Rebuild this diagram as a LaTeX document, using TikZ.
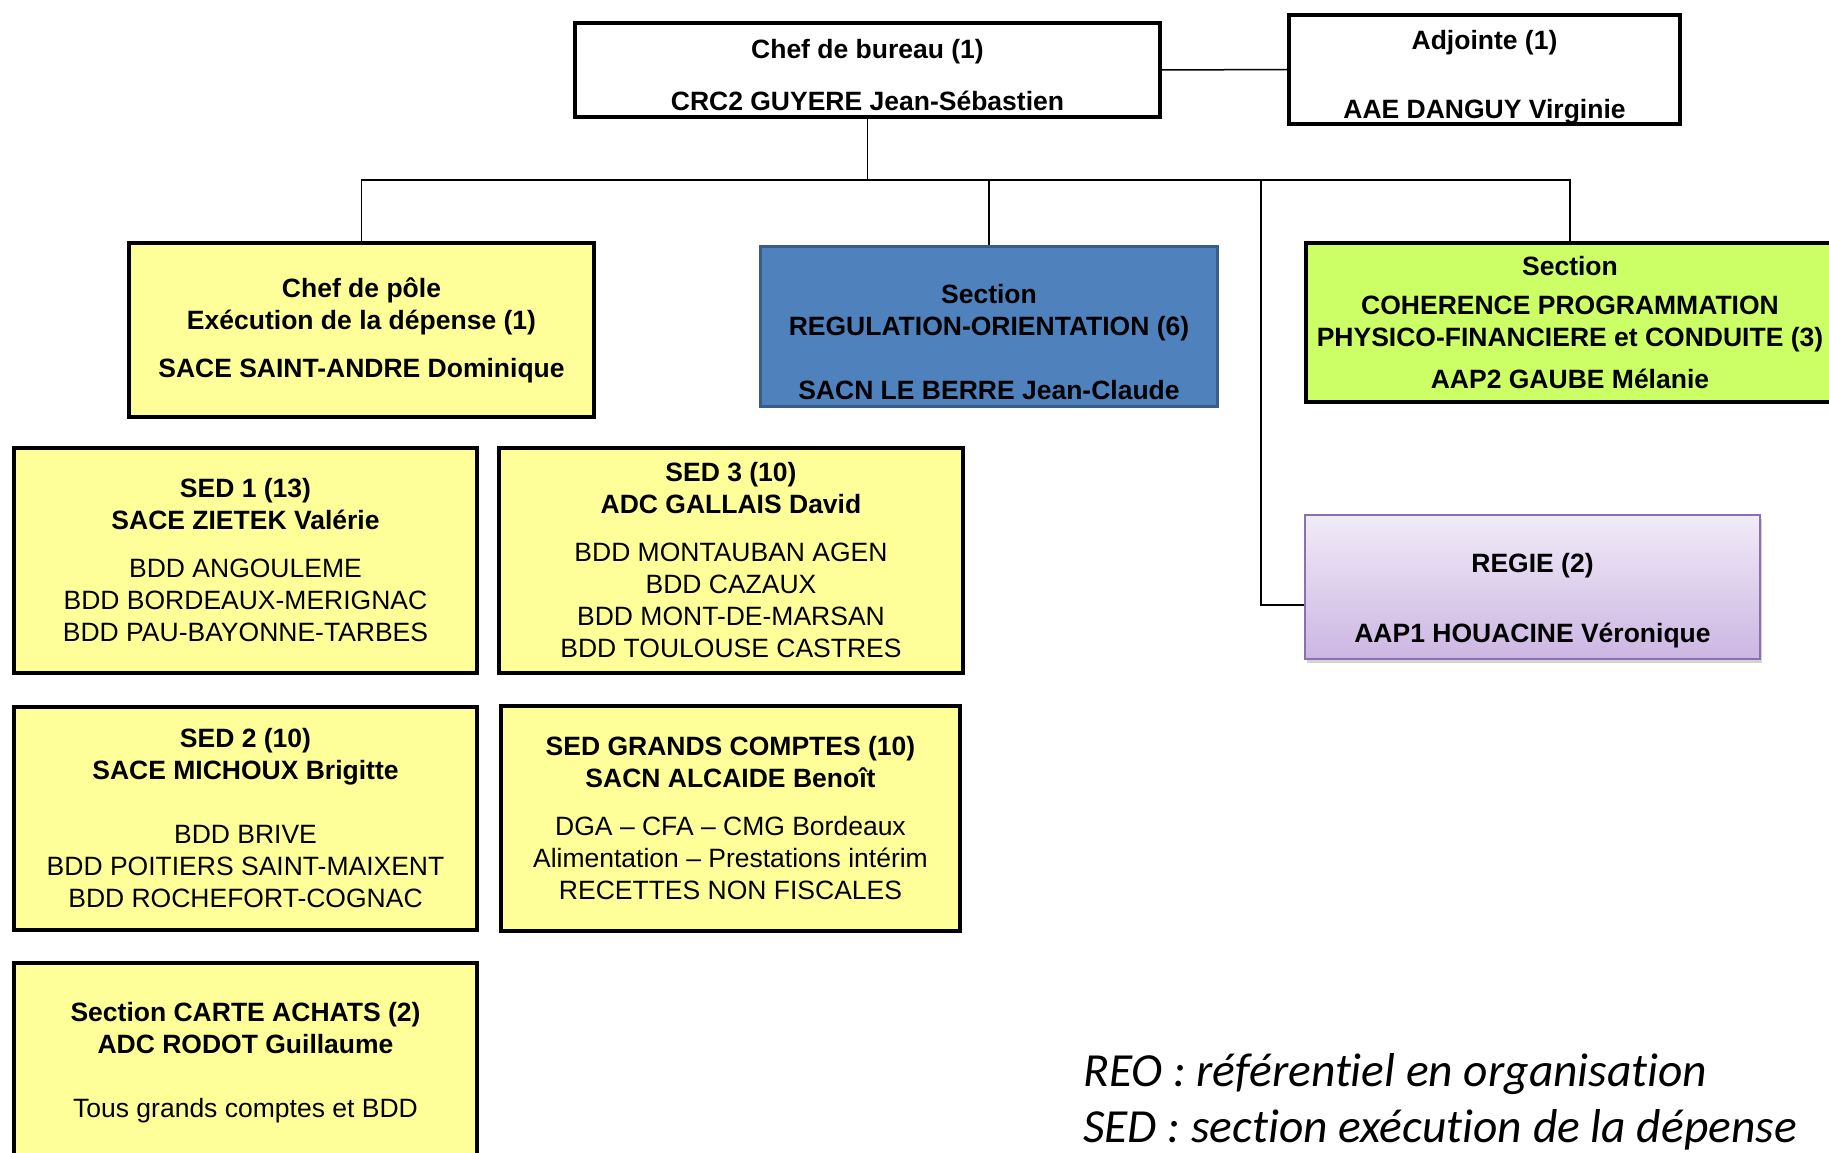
\documentclass[tikz,border=0pt]{standalone}
\usepackage{fontspec}
\setmainfont{Liberation Sans}
\newfontfamily\legendfont[Ligatures=NoCommon]{Carlito}
\usetikzlibrary{shadows,positioning}
\definecolor{sedyellow}{HTML}{FFFF99}
\definecolor{regblue}{HTML}{4F81BD}
\definecolor{regborder}{HTML}{385D8A}
\definecolor{cohgreen}{HTML}{CCFF66}
\definecolor{regietop}{HTML}{F1EBF8}
\definecolor{regiebot}{HTML}{CCB6E2}
\definecolor{regieborder}{HTML}{8B6FB0}
\newcommand{\boxfont}{\fontsize{26.5}{32}\selectfont}
\newcommand{\topstrut}[1]{\rule{0pt}{#1}}
\tikzstyle{orgbox}=[rectangle,draw=black,line width=4pt,align=center,
                    font=\boxfont,inner sep=0pt]
\tikzstyle{chefbox}=[orgbox,fill=white,font=\boxfont\bfseries]
\tikzstyle{sedbox}=[orgbox,fill=sedyellow,minimum width=463pt]
\tikzstyle{regulbox}=[orgbox,draw=regborder,line width=3pt,fill=regblue,
                      font=\boxfont\bfseries]
\tikzstyle{cohbox}=[orgbox,fill=cohgreen,font=\boxfont\bfseries]
\tikzstyle{regiebox}=[orgbox,draw=regieborder,line width=2pt,
                      top color=regietop,bottom color=regiebot,
                      font=\boxfont\bfseries,
                      drop shadow={opacity=0.35,shadow xshift=2pt,shadow yshift=-4pt}]
\tikzstyle{legend}=[align=left,inner sep=0pt,
                    font=\legendfont\itshape\fontsize{47.5}{56}\selectfont]
\tikzstyle{line}=[black,line width=1.5pt]

\begin{document}
\begin{tikzpicture}[x=1pt,y=-1pt]
  \useasboundingbox (0,0) rectangle (1829,1153);
  \clip (0,0) rectangle (1829,1153);

	\node[chefbox,minimum width=585pt,minimum height=94pt] (chef) at (867.5,70)
		{\topstrut{29pt}Chef de bureau (1)\\[20pt]CRC2 GUYERE Jean-Sébastien};
	\node[chefbox,minimum width=391pt,minimum height=109pt] (adj) at (1484.5,69.5)
		{\topstrut{35pt}Adjointe (1)\\[37pt]AAE DANGUY Virginie};
	\node[orgbox,fill=sedyellow,font=\boxfont\bfseries,minimum width=465pt,
		minimum height=174pt] (pole) at (361.5,330)
		{Chef de pôle\\Exécution de la dépense (1)\\[16pt]SACE SAINT-ANDRE Dominique};
	\node[regulbox,minimum width=457pt,minimum height=160pt] (regul) at (989,326.5)
		{\topstrut{51pt}Section\\REGULATION-ORIENTATION (6)\\[32pt]SACN LE BERRE Jean-Claude};
	\node[cohbox,minimum width=528pt,minimum height=159pt] (coher) at (1570,322.5)
		{Section\\[7pt]COHERENCE PROGRAMMATION\\PHYSICO-FINANCIERE et CONDUITE (3)\\[10pt]AAP2 GAUBE Mélanie};
	\node[regiebox,minimum width=455pt,minimum height=144pt] (regie) at (1532.5,587)
		{\topstrut{47pt}REGIE (2)\\[38pt]AAP1 HOUACINE Véronique};

	\node[sedbox,minimum height=225pt] (sed1) at (245.5,560.5)
		{\textbf{SED 1 (13)}\\\textbf{SACE ZIETEK Valérie}\\[16pt]BDD ANGOULEME\\BDD BORDEAUX-MERIGNAC\\BDD PAU-BAYONNE-TARBES};
	\node[sedbox,minimum width=464pt,minimum height=225pt] (sed3) [right=18pt of sed1]
		{\textbf{SED 3 (10)}\\\textbf{ADC GALLAIS David}\\[16pt]BDD MONTAUBAN AGEN\\BDD CAZAUX\\BDD MONT-DE-MARSAN\\BDD TOULOUSE CASTRES};
	\node[sedbox,minimum height=223pt] (sed2) [below=30pt of sed1]
		{\textbf{SED 2 (10)}\\\textbf{SACE MICHOUX Brigitte}\\[32pt]BDD BRIVE\\BDD POITIERS SAINT-MAIXENT\\BDD ROCHEFORT-COGNAC};
	\node[sedbox,minimum width=459pt,minimum height=225pt] (sedgc) [right=20pt of sed2]
		{\textbf{SED GRANDS COMPTES (10)}\\\textbf{SACN ALCAIDE Benoît}\\[16pt]DGA -- CFA -- CMG Bordeaux\\Alimentation -- Prestations intérim\\RECETTES NON FISCALES};
	\node[sedbox,minimum height=200pt] (carte) [below=29pt of sed2]
		{\textbf{Section CARTE ACHATS (2)}\\\textbf{ADC RODOT Guillaume}\\[32pt]Tous grands comptes et BDD};

	\node[legend,anchor=west] (legend) at (1083,1102)
		{REO : référentiel en organisation\\SED : section exécution de la dépense};

	\coordinate (bus) at (867.5,180);
	\coordinate (tap) at (1261,180);
	\draw[line] (chef.east) -- (adj.west);
	\draw[line] (chef.south) -- (bus);
	\draw[line] (bus) -| (pole.north);
	\draw[line] (bus) -| (regul.north);
	\draw[line] (bus) -| (coher.north);
	\draw[line] (tap) |- ([yshift=-18pt]regie.west);
\end{tikzpicture}
\end{document}
